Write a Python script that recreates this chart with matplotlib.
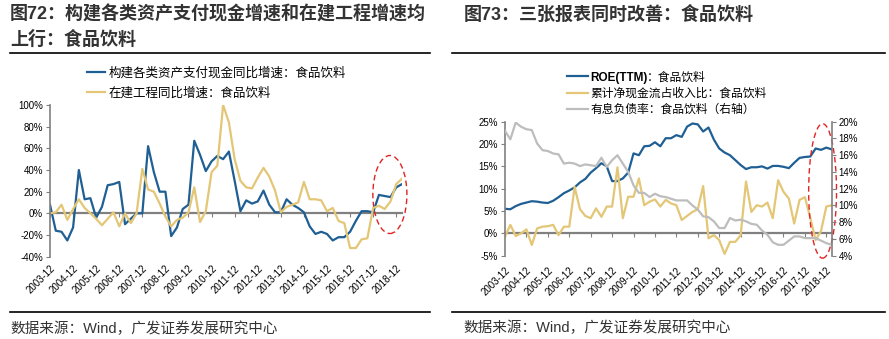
import numpy as np
import matplotlib
matplotlib.use('Agg')
import matplotlib.pyplot as plt
from matplotlib.patches import Ellipse
from matplotlib.lines import Line2D
from matplotlib.ticker import FuncFormatter

plt.rcParams['font.family'] = ['Liberation Sans', 'Noto Sans CJK SC']
plt.rcParams['axes.unicode_minus'] = False

# ---------------------------------------------------------------------------
# quarterly series, 2003-12 .. 2019-03 (62 quarters)
# ---------------------------------------------------------------------------
year_labels = ['2003-12', '2004-12', '2005-12', '2006-12', '2007-12', '2008-12',
               '2009-12', '2010-12', '2011-12', '2012-12', '2013-12', '2014-12',
               '2015-12', '2016-12', '2017-12', '2018-12']

# 构建各类资产支付现金同比增速 (%)
capex_cash_growth = [8, -16, -17, -25, -13, 40, 13, 14, -4, 6,
                     26, 27, 29, -10, -5, 0, 0, 62, 38, 20,
                     20, -21, -13, 4, 8, 67, 54, 39, 48, 53,
                     50, 57, 30, 2, 12, 9, 11, 21, 8, 1,
                     1, 13, 8, 5, 1, -12, -19, -17, -19, -25,
                     -22, -22, -17, -7, 2, 2, 1, 17, 16, 15,
                     24, 27]

# 在建工程同比增速 (%)
cip_growth = [0, 1, 8, -6, 4, 13, 5, 0, -5, -11,
              -5, 1, -12, 0, -9, 0, 41, 22, 20, 9,
              -3, -12, -6, -4, 1, 24, -8, 2, 38, 44,
              100, 84, 50, 30, 24, 23, 33, 42, 34, 21,
              1, 6, 8, 10, 29, 13, 13, 12, 2, 5,
              -7, -9, -32, -32, -24, -23, 5, 7, 4, 11,
              27, 32]

# ROE(TTM) (%)
roe_ttm = [5.5, 5.4, 6.1, 6.6, 6.9, 7.2, 7.1, 6.9, 6.8, 7.3,
           8.1, 9.0, 9.6, 10.3, 11.4, 12.2, 13.6, 14.6, 15.7, 15.0,
           11.7, 11.7, 12.3, 13.6, 17.9, 17.5, 19.5, 19.6, 20.4, 19.5,
           21.3, 21.3, 22.0, 21.6, 23.9, 24.6, 24.4, 22.8, 23.7, 21.0,
           19.0, 18.1, 17.5, 16.4, 15.3, 14.4, 14.8, 14.8, 15.0, 14.5,
           15.1, 15.1, 14.9, 14.6, 15.8, 16.9, 17.1, 17.2, 19.0, 18.7,
           19.2, 18.8]

# 累计净现金流占收入比 (%)
net_cash_ratio = [-0.7, 1.9, -0.6, 0.0, 0.9, -2.6, 1.1, 1.5, 1.6, 1.9,
                  -0.4, 1.5, 1.5, 10.4, 5.4, 3.9, 3.4, 5.6, 3.7, 6.0,
                  6.0, 14.8, 3.4, 8.2, 8.2, 12.3, 6.3, 7.1, 7.6, 6.0,
                  7.5, 6.7, 6.3, 3.0, 3.9, 4.8, 5.4, 10.6, -1.1, -0.4,
                  -1.5, -4.6, -1.9, -1.9, -0.4, 11.6, 4.8, 6.3, 6.0, 6.9,
                  3.4, 11.9, 9.3, 7.8, 2.2, 7.5, 8.1, 3.5, -1.5, 0.5,
                  6.0, 6.3]

# 有息负债率 (%, right axis)
debt_ratio = [18.9, 17.9, 19.9, 19.4, 19.1, 19.0, 17.4, 16.6, 16.5, 16.2,
              16.1, 15.0, 15.1, 15.0, 14.7, 14.9, 14.8, 14.7, 15.7, 14.6,
              15.4, 16.0, 15.0, 14.0, 12.4, 11.5, 11.5, 11.0, 11.4, 11.1,
              11.0, 10.8, 10.6, 10.6, 10.6, 10.0, 9.5, 8.7, 8.6, 8.1,
              7.3, 7.3, 8.5, 8.2, 8.3, 8.1, 7.8, 7.7, 7.0, 6.5,
              5.6, 5.3, 5.3, 5.8, 6.3, 6.3, 6.1, 6.1, 6.1, 5.8,
              5.5, 5.3]

BLUE = '#1f5f93'
GOLD = '#e3c676'
GREY = '#bdbdbd'
AXIS = '#808080'
RED = '#e02424'
TXT = '#333333'

W, H = 889, 339
fig = plt.figure(figsize=(W / 100, H / 100), dpi=100)


def fx(x):
    return x / W


def fy(y):
    return 1 - y / H


pct = FuncFormatter(lambda v, _: f'{v:.0f}%')


def style_axes(ax, ylim, yticks, xticks):
    ax.set_ylim(*ylim)
    ax.set_yticks(yticks)
    ax.yaxis.set_major_formatter(pct)
    ax.set_xlim(0, len(capex_cash_growth) - 1)
    ax.spines['top'].set_visible(False)
    ax.spines['right'].set_visible(False)
    ax.spines['bottom'].set_visible(False)
    ax.spines['left'].set_color(AXIS)
    ax.spines['left'].set_linewidth(1.2)
    ax.tick_params(axis='y', direction='out', length=3, color=AXIS,
                   labelsize=7, pad=2)
    ax.set_xticks(xticks)
    ax.set_xticklabels(year_labels, rotation=45, ha='right',
                       rotation_mode='anchor', fontsize=7)
    ax.tick_params(axis='x', length=0, pad=5)
    # zero line carrying the year tick marks
    zero = (0 - ylim[0]) / (ylim[1] - ylim[0])
    sec = ax.secondary_xaxis(zero)
    sec.set_xticks(xticks)
    sec.tick_params(axis='x', direction='out', length=3, color=AXIS,
                    labelbottom=False, labeltop=False)
    for s in sec.spines.values():
        s.set_color(AXIS)
        s.set_linewidth(1.6)


x = np.arange(len(capex_cash_growth))
xticks = x[::4]

# ---------------------------------------------------------------- left chart
ax_l = fig.add_axes([fx(50), fy(256.7), (402 - 50) / W, (256.7 - 105) / H])
l1, = ax_l.plot(x, capex_cash_growth, color=BLUE, lw=1.6)
l2, = ax_l.plot(x, cip_growth, color=GOLD, lw=1.6)
style_axes(ax_l, (-40, 100), range(-40, 101, 20), xticks)
ax_l.add_patch(Ellipse((58.9, 17.4), 5.9, 72, fill=False, ec=RED, lw=1,
                       ls=(0, (4, 2.5)), clip_on=False))
fig.legend([l1, l2], ['构建各类资产支付现金同比增速：食品饮料', '在建工程同比增速：食品饮料'],
           loc='upper left', bbox_to_anchor=(fx(87), fy(67)), frameon=False,
           fontsize=9, borderpad=0, borderaxespad=0, handlelength=1.4,
           handletextpad=0.3, labelspacing=0.6)

# --------------------------------------------------------------- right chart
ax_r = fig.add_axes([fx(505), fy(255.7), (831.7 - 505) / W, (255.7 - 121.7) / H])
r1, = ax_r.plot(x, roe_ttm, color=BLUE, lw=1.6)
r2, = ax_r.plot(x, net_cash_ratio, color=GOLD, lw=1.6)
style_axes(ax_r, (-5, 25), range(-5, 26, 5), xticks)
ax_r.tick_params(axis='x', pad=7)
ax_r2 = ax_r.twinx()
r3, = ax_r2.plot(x, debt_ratio, color=GREY, lw=1.6)
ax_r2.set_ylim(4, 20)
ax_r2.set_yticks(range(4, 21, 2))
ax_r2.yaxis.set_major_formatter(pct)
for side in ('top', 'left', 'bottom'):
    ax_r2.spines[side].set_visible(False)
ax_r2.spines['right'].set_color(AXIS)
ax_r2.spines['right'].set_linewidth(1.2)
ax_r2.tick_params(axis='y', direction='out', length=3, color=AXIS,
                  labelsize=7, pad=2)
ax_r.add_patch(Ellipse((59.3, 9.5), 5.2, 30.1, fill=False, ec=RED, lw=1,
                       ls=(0, (4, 2.5)), clip_on=False, zorder=5))
leg = fig.legend([r1, r2, r3], ['ROE(TTM)', '累计净现金流占收入比：食品饮料', '有息负债率：食品饮料（右轴）'],
                 loc='upper left', bbox_to_anchor=(fx(567), fy(71.5)), frameon=False,
                 fontsize=8.5, borderpad=0, borderaxespad=0, handlelength=1.75,
                 handletextpad=0.2, labelspacing=0.35)
roe_txt = leg.get_texts()[0]
roe_txt.set_fontweight('bold')

# ------------------------------------------------------- titles and footers
fig.text(fx(10), fy(14.5), '图72：构建各类资产支付现金增速和在建工程增速均',
         fontsize=13, weight='bold', color=TXT, va='center')
fig.text(fx(10), fy(40), '上行：食品饮料',
         fontsize=13, weight='bold', color=TXT, va='center')
fig.text(fx(464), fy(14.5), '图73：三张报表同时改善：食品饮料',
         fontsize=13, weight='bold', color=TXT, va='center')
for x0, x1 in ((10, 430), (452, 885)):
    for yy in (52.7, 312):
        fig.add_artist(Line2D([fx(x0), fx(x1)], [fy(yy), fy(yy)],
                              transform=fig.transFigure, color='black', lw=1.2))
fig.text(fx(10), fy(329), '数据来源：Wind，广发证券发展研究中心',
         fontsize=10.5, color=TXT, va='center')
fig.text(fx(463), fy(328), '数据来源：Wind，广发证券发展研究中心',
         fontsize=10.5, color=TXT, va='center')

# the rest of the ROE legend entry is set in regular weight after the bold part
fig.canvas.draw()
bb = roe_txt.get_window_extent()
fig.text(bb.x1 / W, bb.y0 / H, '：食品饮料', fontsize=8.5, va='bottom', ha='left')

fig.savefig('out.png', dpi=100)
